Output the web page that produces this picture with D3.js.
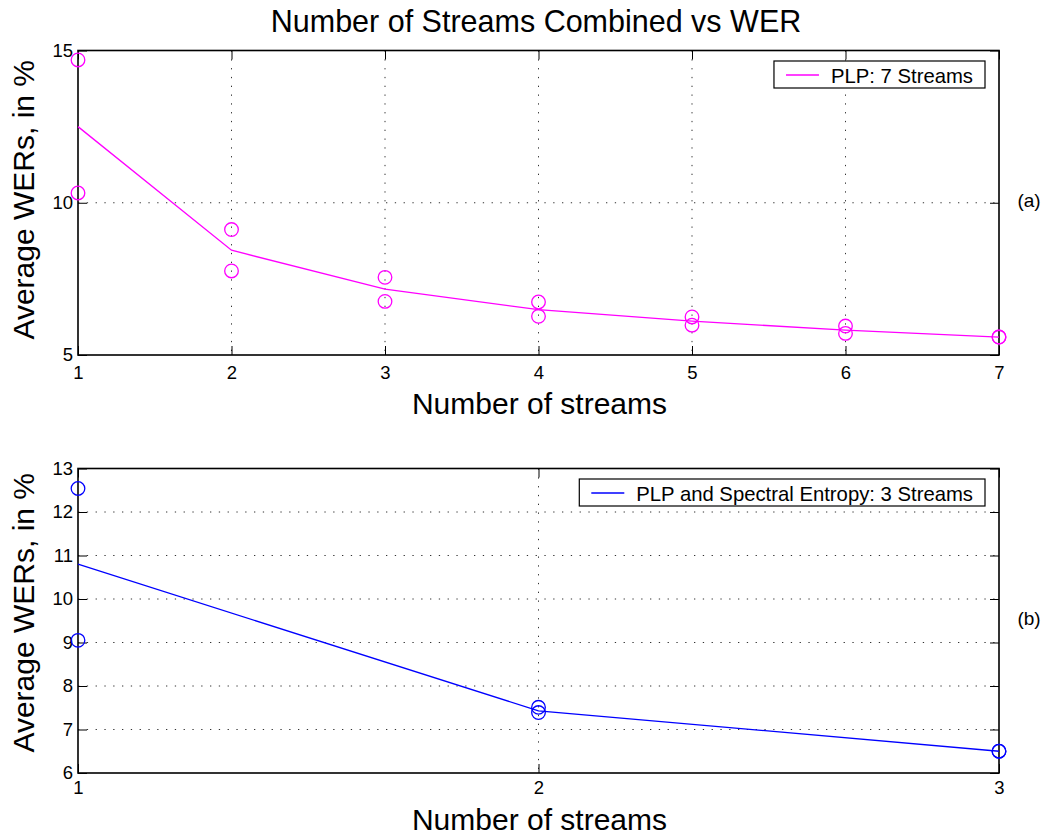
<!DOCTYPE html>
<html><head><meta charset="utf-8">
<script src="https://cdn.jsdelivr.net/npm/d3@7"></script>
<style>body{margin:0;background:#fff}svg{display:block}text{font-family:"Liberation Sans",Arial,Helvetica,sans-serif;fill:#000}</style>
</head><body><svg id="c" width="1047" height="836"></svg>
<script>
// Panel (a): PLP, 7 streams
const streamsA = [1,2,3,4,5,6,7];
const maxA  = [14.69, 9.12, 7.55, 6.74, 6.25, 5.95, 5.59];
const minA  = [10.32, 7.76, 6.76, 6.27, 5.98, 5.71, 5.59];
const meanA = [12.50, 8.44, 7.16, 6.49, 6.11, 5.82, 5.59];
const yTicksA = [5,10,15];
// Panel (b): PLP + Spectral Entropy, 3 streams
const streamsB = [1,2,3];
const maxB  = [12.54, 7.51, 6.50];
const minB  = [9.05, 7.39, 6.50];
const meanB = [10.80, 7.43, 6.50];
const yTicksB = [6,7,8,9,10,11,12,13];

const FONT = "Liberation Sans, Arial, sans-serif";
const svg = d3.select("#c");
svg.append("text").attr("x", 536).attr("y", 32).attr("text-anchor","middle")
  .attr("font-size", 30.5).text("Number of Streams Combined vs WER");

function panel(cfg){
  const {top, bottom, left, right, xs, mx, mn, mean, yDom, yTicks, color, legend, tag, xlabDy, xtickDy, ylabShift} = cfg;
  const x = d3.scaleLinear().domain([xs[0], xs[xs.length-1]]).range([left, right]);
  const y = d3.scaleLinear().domain(yDom).range([bottom, top]);
  const g = svg.append("g");
  // grid
  g.selectAll(".gx").data(xs.slice(1,-1)).join("line")
    .attr("x1", d=>x(d)).attr("x2", d=>x(d)).attr("y1", top).attr("y2", bottom)
    .attr("stroke","#333").attr("stroke-width",1).attr("stroke-dasharray","1.3,7.5");
  g.selectAll(".gy").data(yTicks.slice(1,-1)).join("line")
    .attr("y1", d=>y(d)).attr("y2", d=>y(d)).attr("x1", left).attr("x2", right)
    .attr("stroke","#333").attr("stroke-width",1).attr("stroke-dasharray","1.3,7.5");
  // axes with inward ticks
  const tl = 9;
  const xa = g.append("g").attr("transform",`translate(0,${bottom})`)
    .call(d3.axisBottom(x).tickValues(xs).tickFormat(d3.format("d")).tickSizeInner(-tl).tickSizeOuter(0).tickPadding(0));
  xa.select(".domain").remove();
  xa.selectAll("text").attr("y", xtickDy).attr("dy", null).attr("font-size",18.5).style("font-family",FONT);
  g.append("g").attr("transform",`translate(0,${top})`)
    .call(d3.axisTop(x).tickValues(xs).tickFormat("").tickSizeInner(-tl).tickSizeOuter(0))
    .call(a=>a.select(".domain").remove());
  g.append("g").attr("transform",`translate(${left},0)`)
    .call(d3.axisLeft(y).tickValues(yTicks).tickFormat(d3.format("d")).tickSizeInner(-tl).tickSizeOuter(0).tickPadding(0))
    .call(a=>{a.select(".domain").remove(); a.selectAll("text").attr("x",-5).attr("font-size",18.5).style("font-family",FONT);});
  g.append("g").attr("transform",`translate(${right},0)`)
    .call(d3.axisRight(y).tickValues(yTicks).tickFormat("").tickSizeInner(-tl).tickSizeOuter(0))
    .call(a=>a.select(".domain").remove());
  g.selectAll(".tick line").attr("stroke","#000").attr("stroke-width",1);
  g.append("rect").attr("x", left).attr("y", top).attr("width", right-left).attr("height", bottom-top)
    .attr("fill","none").attr("stroke","#000").attr("stroke-width",1.6);
  // mean line
  g.append("path").datum(xs.map((d,i)=>[d, mean[i]]))
    .attr("d", d3.line().x(d=>x(d[0])).y(d=>y(d[1])))
    .attr("fill","none").attr("stroke",color).attr("stroke-width",1.3);
  // markers (best / worst combination)
  const pts = xs.map((d,i)=>[d,mx[i]]).concat(xs.map((d,i)=>[d,mn[i]]));
  g.selectAll("circle.m").data(pts).join("circle")
    .attr("cx", d=>x(d[0])).attr("cy", d=>y(d[1])).attr("r", 6.8)
    .attr("fill","none").attr("stroke",color).attr("stroke-width",1.3);
  // labels
  g.append("text").attr("transform",`translate(34,${(top+bottom)/2 + ylabShift}) rotate(-90)`)
    .attr("text-anchor","middle").attr("font-size",30).text("Average WERs, in %");
  g.append("text").attr("x",(left+right)/2 + 1).attr("y", bottom+xlabDy).attr("text-anchor","middle")
    .attr("font-size",30).text("Number of streams");
  g.append("text").attr("x", 1029).attr("y", (top+bottom)/2 + 4).attr("text-anchor","middle")
    .attr("font-size",19).text(tag);
  // legend (anchored to the upper-right corner)
  const lg = g.append("g");
  const lt = lg.append("text").attr("x", 57).attr("y", top+32).attr("font-size",20.3).text(legend);
  const bw = lt.node().getComputedTextLength();
  lg.insert("rect","text").attr("x", 0).attr("y", top+10.5).attr("width", bw+69).attr("height", 27)
    .attr("fill","#fff").attr("stroke","#000").attr("stroke-width",1.2);
  lg.append("line").attr("x1", 12).attr("x2", 45).attr("y1", top+24.5).attr("y2", top+24.5)
    .attr("stroke",color).attr("stroke-width",1.3);
  lg.attr("transform",`translate(${(right-14) - (bw+69)},0)`);
}

panel({top:50.5, bottom:355, left:78, right:999, xs:streamsA, mx:maxA, mn:minA, mean:meanA,
  yDom:[5,15], yTicks:yTicksA, color:"#ff00ff", legend:"PLP: 7 Streams", tag:"(a)", xlabDy:59, xtickDy:24, ylabShift:-3});
panel({top:468.5, bottom:773, left:78, right:999, xs:streamsB, mx:maxB, mn:minB, mean:meanB,
  yDom:[6,13], yTicks:yTicksB, color:"#0000ff", legend:"PLP and Spectral Entropy: 3 Streams", tag:"(b)", xlabDy:57, xtickDy:21, ylabShift:-8});
</script></body></html>
